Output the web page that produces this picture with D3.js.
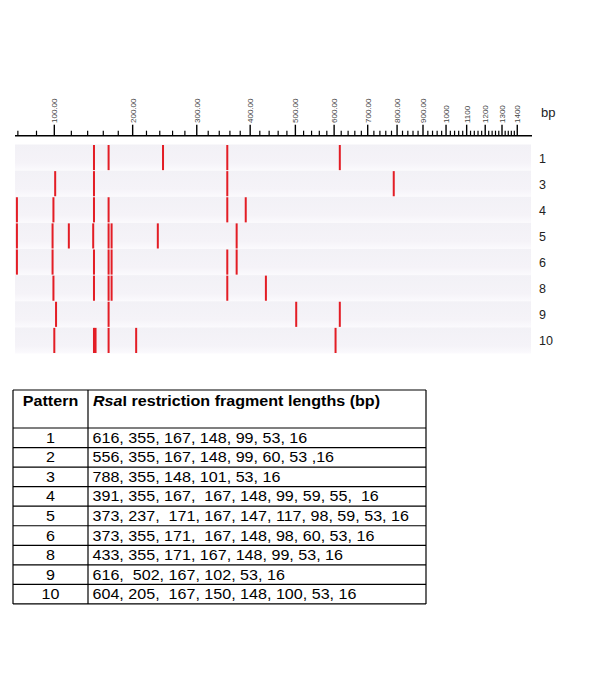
<!DOCTYPE html>
<html lang="en">
<head>
    <meta charset="UTF-8">
    <title>RsaI patterns</title>
    <script src="https://cdn.jsdelivr.net/npm/d3@7"></script>
    <style>
        body { margin: 0; background: #fff; }
        svg { display: block; font-family: "Liberation Sans", Arial, sans-serif; }
        .tbl text { white-space: pre; }
    </style>
</head>
<body>
    <svg width="600" height="692"></svg>

    <script>
        // gel bands (bp) as they appear in the picture
        const gelPatterns = ["1", "3", "4", "5", "6", "8", "9", "10"];
        const gelBands = [
            [616, 355, 245, 167, 148],
            [788, 355, 148, 101],
            [391, 355, 167, 148, 99, 59],
            [373, 237, 171, 167, 147, 117, 98, 59],
            [373, 355, 171, 167, 148, 98, 59],
            [433, 355, 171, 167, 148, 99],
            [616, 502, 167, 102],
            [604, 205, 167, 150, 148, 100]
        ];
        const majorTicks = [100, 200, 300, 400, 500, 600, 700, 800, 900, 1000, 1100, 1200, 1300, 1400];
        const tickLabels = ["100.00", "200.00", "300.00", "400.00", "500.00", "600.00", "700.00",
                            "800.00", "900.00", "1000", "1100", "1200", "1300", "1400"];
        const minorTicks = d3.range(60, 1400, 20).filter(d => d % 100 !== 0);

        // table
        const tablePatterns = ["1", "2", "3", "4", "5", "6", "8", "9", "10"];
        const tableFragments = [
            "616, 355, 167, 148, 99, 53, 16",
            "556, 355, 167, 148, 99, 60, 53 ,16",
            "788, 355, 148, 101, 53, 16",
            "391, 355, 167,  167, 148, 99, 59, 55,  16",
            "373, 237,  171, 167, 147, 117, 98, 59, 53, 16",
            "373, 355, 171,  167, 148, 98, 60, 53, 16",
            "433, 355, 171, 167, 148, 99, 53, 16",
            "616,  502, 167, 102, 53, 16",
            "604, 205,  167, 150, 148, 100, 53, 16"
        ];

        var svg = d3.select("svg");

        // migration scale: linear in 1/(bp + 800)
        const inv = bp => 1 / (bp + 800);
        const xs = d3.scaleLinear().domain([inv(57), inv(1506)]).range([15, 532]);
        const x = bp => xs(inv(bp));

        const axisY = 135.7;
        const y = d3.scaleBand().domain(gelPatterns).range([144.5, 353.5]);

        // row backgrounds
        const grad = svg.append("defs").append("linearGradient")
            .attr("id", "rowg").attr("x1", 0).attr("x2", 0).attr("y1", 0).attr("y2", 1);
        grad.append("stop").attr("offset", "0%").attr("stop-color", "#f2f1f6");
        grad.append("stop").attr("offset", "70%").attr("stop-color", "#f5f3f8");
        grad.append("stop").attr("offset", "100%").attr("stop-color", "#fbfafd");

        svg.append("g").selectAll("rect")
            .data(gelPatterns)
            .enter().append("rect")
            .attr("x", 15)
            .attr("width", 516)
            .attr("y", d => y(d))
            .attr("height", y.bandwidth())
            .attr("fill", "url(#rowg)");

        // bands
        gelPatterns.forEach((p, i) => {
            svg.append("g").selectAll("rect")
                .data(gelBands[i])
                .enter().append("rect")
                .attr("x", d => x(d) - 1)
                .attr("width", 2)
                .attr("y", y(p) + 0.5)
                .attr("height", y.bandwidth() - 1)
                .attr("fill", "#e31d25");
        });

        // row labels
        svg.append("g").selectAll("text")
            .data(gelPatterns)
            .enter().append("text")
            .attr("x", 539)
            .attr("y", d => y(d) + y.bandwidth() / 2 + 5)
            .attr("font-size", 12.5)
            .attr("fill", "#222")
            .text(d => d);

        // axis
        const ax = svg.append("g");
        ax.append("line")
            .attr("x1", 15).attr("x2", 532)
            .attr("y1", axisY).attr("y2", axisY)
            .attr("stroke", "#000").attr("stroke-width", 1.6);
        ax.selectAll(".minor")
            .data(minorTicks)
            .enter().append("line")
            .attr("class", "minor")
            .attr("x1", d => x(d)).attr("x2", d => x(d))
            .attr("y1", axisY).attr("y2", axisY - 5)
            .attr("stroke", "#000").attr("stroke-width", 1.2);
        ax.selectAll(".major")
            .data(majorTicks)
            .enter().append("line")
            .attr("class", "major")
            .attr("x1", d => x(d)).attr("x2", d => x(d))
            .attr("y1", axisY).attr("y2", axisY - 11)
            .attr("stroke", "#000").attr("stroke-width", 1.4);
        ax.selectAll(".lbl")
            .data(majorTicks)
            .enter().append("text")
            .attr("class", "lbl")
            .attr("transform", d => `translate(${x(d) + 3},123) rotate(-90)`)
            .attr("text-anchor", "start")
            .attr("font-size", 8)
            .attr("fill", "#444")
            .text((d, i) => tickLabels[i]);
        ax.append("text")
            .attr("x", 541).attr("y", 117)
            .attr("font-size", 13)
            .attr("fill", "#222")
            .text("bp");

        // table
        const tb = svg.append("g").attr("class", "tbl");
        const tTop = 390, headBottom = 428, rowH = 19.55;
        const tLeft = 13, tMid = 88, tRight = 426;
        const tBottom = headBottom + rowH * tablePatterns.length;
        const sx = 1.15;

        const hLines = [tTop, headBottom].concat(tablePatterns.map((d, i) => headBottom + rowH * (i + 1)));
        tb.selectAll(".h")
            .data(hLines)
            .enter().append("line")
            .attr("x1", tLeft).attr("x2", tRight)
            .attr("y1", d => d).attr("y2", d => d)
            .attr("stroke", "#000").attr("stroke-width", 1.2);
        tb.selectAll(".v")
            .data([tLeft, tMid, tRight])
            .enter().append("line")
            .attr("x1", d => d).attr("x2", d => d)
            .attr("y1", tTop).attr("y2", tBottom)
            .attr("stroke", "#000").attr("stroke-width", 1.2);

        tb.append("text")
            .attr("transform", `translate(50.5,406) scale(${sx},1)`)
            .attr("text-anchor", "middle")
            .attr("font-size", 14).attr("font-weight", "bold")
            .text("Pattern");
        const h2 = tb.append("text")
            .attr("transform", `translate(93,406) scale(${sx},1)`)
            .attr("font-size", 14).attr("font-weight", "bold");
        h2.append("tspan").attr("font-style", "italic").text("Rsa");
        h2.append("tspan").text("I restriction fragment lengths (bp)");

        tb.selectAll(".pn")
            .data(tablePatterns)
            .enter().append("text")
            .attr("transform", (d, i) => `translate(50.5,${headBottom + rowH * i + 14.8}) scale(${sx},1)`)
            .attr("text-anchor", "middle")
            .attr("font-size", 14)
            .text(d => d);
        tb.selectAll(".fr")
            .data(tableFragments)
            .enter().append("text")
            .attr("transform", (d, i) => `translate(92.5,${headBottom + rowH * i + 14.8}) scale(${sx},1)`)
            .attr("font-size", 14)
            .text(d => d);
    </script>
</body>
</html>
